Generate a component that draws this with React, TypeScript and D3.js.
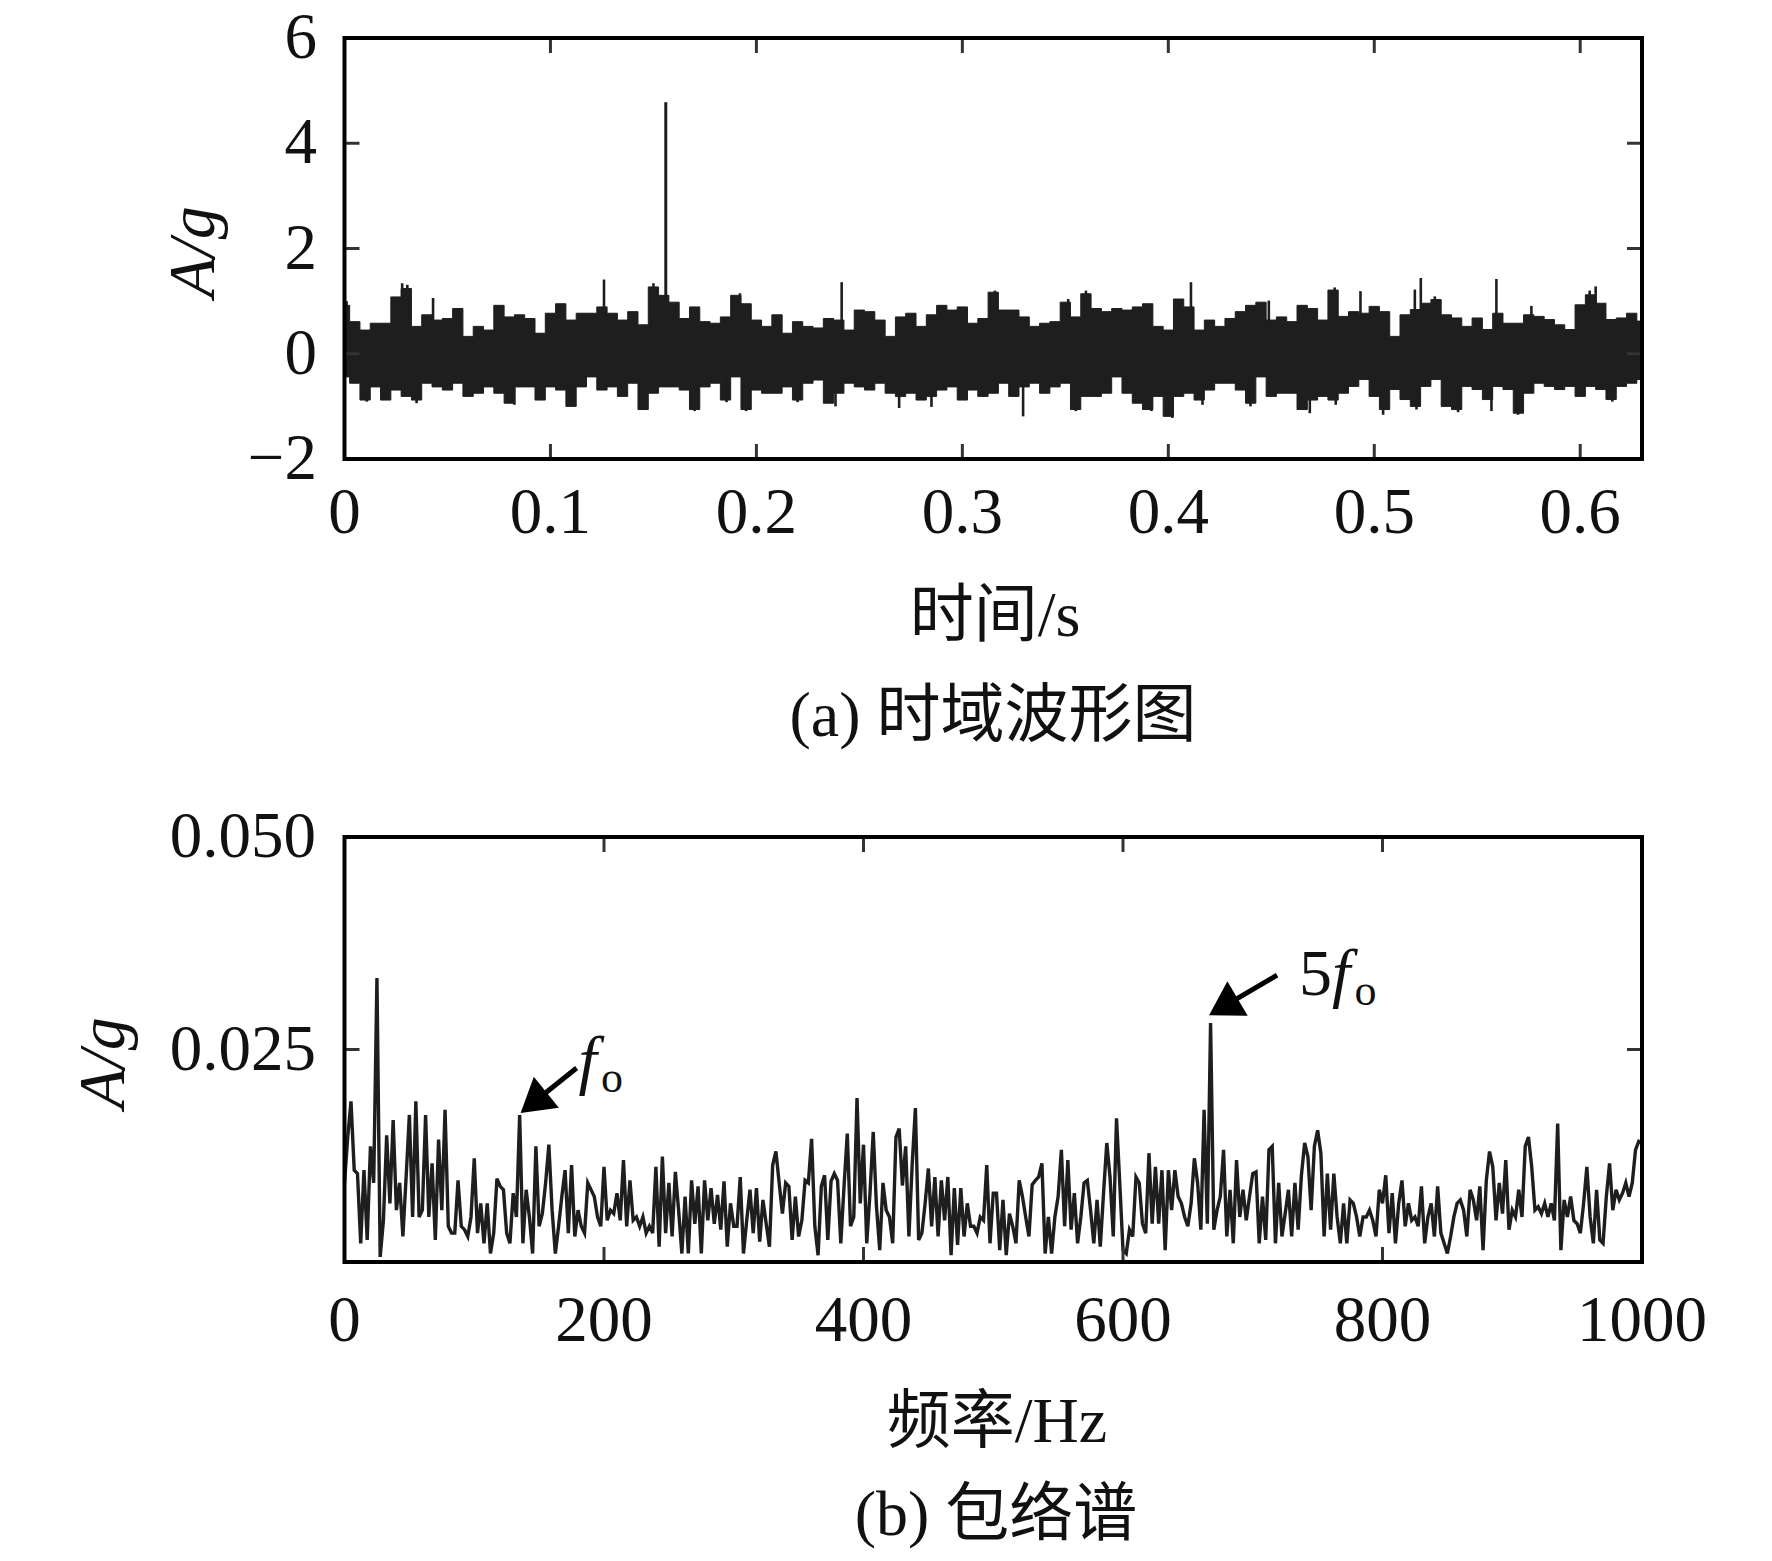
import React, { useRef, useEffect } from 'react';
import * as d3 from 'd3';

// ---- time-domain waveform (a): envelope read every 0.005 s ----
const timeStep = 0.005;
const timeUpper = [
  0.92, 0.61, 0.45, 0.58, 0.58, 1.08, 1.24, 0.52, 0.74, 0.64, 0.67, 0.86, 0.33, 0.52, 0.45, 0.92, 0.70,
  0.74, 0.67, 0.39, 0.77, 0.95, 0.64, 0.77, 0.77, 0.89, 0.77, 0.64, 0.80, 0.55, 1.27, 1.11, 0.98,
  0.67, 0.89, 0.61, 0.58, 0.70, 1.11, 0.95, 0.64, 0.52, 0.74, 0.39, 0.61, 0.52, 0.49, 0.67, 0.64,
  0.45, 0.83, 0.80, 0.64, 0.33, 0.70, 0.77, 0.52, 0.74, 0.92, 0.83, 0.89, 0.58, 0.67, 1.17, 0.83,
  0.83, 0.70, 0.52, 0.58, 0.61, 0.98, 0.70, 1.14, 0.86, 0.80, 0.86, 0.83, 0.89, 0.95, 0.52, 0.45,
  1.04, 0.89, 0.45, 0.64, 0.52, 0.67, 0.80, 0.92, 0.98, 0.64, 0.70, 0.61, 0.92, 0.86, 0.64, 1.21,
  0.71, 0.80, 0.77, 0.90, 0.80, 0.33, 0.74, 0.84, 0.96, 1.03, 0.74, 0.68, 0.52, 0.68, 0.46, 0.77,
  0.58, 0.58, 0.74, 0.71, 0.65, 0.55, 0.46, 0.93, 1.12, 0.96, 0.65, 0.68, 0.77, 0.62,
];
const timeLower = [
  -0.44, -0.56, -0.88, -0.63, -0.88, -0.69, -0.81, -0.88, -0.56, -0.63, -0.69, -0.56, -0.81, -0.75, -0.63, -0.75, -0.94,
  -0.63, -0.63, -0.88, -0.63, -0.69, -1.00, -0.63, -0.44, -0.69, -0.63, -0.81, -0.56, -1.06, -0.75, -0.63, -0.63,
  -0.69, -1.06, -0.63, -0.56, -0.88, -0.44, -1.06, -0.69, -0.75, -0.75, -0.63, -0.88, -0.56, -0.50, -0.94, -0.75,
  -0.56, -0.63, -0.69, -0.56, -0.75, -0.81, -0.75, -0.88, -0.81, -0.69, -0.63, -0.88, -0.69, -0.81, -0.75, -0.56,
  -0.81, -0.63, -0.56, -0.75, -0.63, -0.56, -1.06, -0.81, -0.81, -0.75, -0.44, -0.75, -0.94, -1.06, -0.81, -1.19,
  -0.81, -0.75, -0.88, -0.69, -0.56, -0.56, -0.69, -0.94, -0.44, -0.81, -0.75, -0.75, -1.06, -0.88, -0.81, -0.88,
  -0.75, -0.62, -0.49, -0.81, -1.06, -0.68, -0.87, -1.00, -0.62, -0.49, -1.00, -1.06, -0.62, -0.68, -0.87, -0.62,
  -0.68, -1.13, -0.75, -0.56, -0.62, -0.68, -0.62, -0.81, -0.62, -0.68, -0.87, -0.62, -0.56, -0.49,
];
// isolated needles sticking out of the band: [time s, amplitude g]
const upNeedles: [number, number][] = [
  [0.001, 1.0], [0.028, 1.34], [0.0305, 1.31], [0.043, 1.06], [0.126, 1.41], [0.150, 1.34],
  [0.192, 1.15], [0.2414, 1.36], [0.3158, 1.20], [0.3514, 1.04], [0.360, 1.20], [0.411, 1.36],
  [0.4488, 1.01], [0.4808, 1.26], [0.4933, 1.19], [0.5197, 1.22], [0.5226, 1.44], [0.5294, 1.09],
  [0.5593, 1.42], [0.5763, 0.91], [0.6046, 1.20], [0.6075, 1.28],
];
const downNeedles: [number, number][] = [
  [0.0108, -0.91], [0.035, -0.94], [0.0825, -0.97], [0.1095, -1.0], [0.1454, -1.06], [0.170, -1.09],
  [0.1855, -0.92], [0.195, -1.09], [0.22, -0.92], [0.2384, -1.0], [0.2693, -1.03], [0.285, -1.01],
  [0.3295, -1.19], [0.3551, -1.09], [0.3918, -1.09], [0.402, -1.22], [0.4166, -0.97], [0.4399, -1.0],
  [0.4687, -1.13], [0.4813, -0.97], [0.5043, -1.16], [0.5205, -1.06], [0.5407, -1.11], [0.5569, -1.09],
  [0.5698, -1.16], [0.6156, -0.91],
];
const impulse: [number, number] = [0.156, 4.78];

const timeTicks = [0, 0.1, 0.2, 0.3, 0.4, 0.5, 0.6];
const accelTicks = [-2, 0, 2, 4, 6];

// ---- envelope spectrum (b): amplitude in 1e-3 g, every 2.5 Hz ----
const freqStep = 2.5;
const specAmp = [
  9.3, 14.7, 18.9, 10.8, 10.4, 2.2, 10.8, 2.6, 13.6, 9.3,
  33.4, 0.6, 4.9, 14.9, 6.9, 16.7, 6.1, 9.3, 3.0, 10.0,
  17.3, 5.3, 18.9, 5.3, 6.1, 17.3, 5.3, 11.6, 2.6, 14.4,
  6.1, 17.9, 4.2, 3.4, 3.4, 9.6, 4.2, 3.8, 3.0, 5.3,
  12.2, 3.4, 6.9, 2.2, 6.9, 1.0, 3.4, 9.8, 8.9, 8.5,
  3.4, 2.2, 8.1, 5.3, 17.3, 2.2, 8.5, 5.3, 1.0, 13.6,
  4.2, 5.7, 9.3, 13.8, 6.1, 1.0, 4.2, 7.7, 10.8, 3.4,
  11.4, 3.0, 6.1, 4.2, 3.4, 9.3, 8.5, 7.7, 5.3, 4.2,
  11.2, 4.9, 6.1, 5.7, 8.1, 4.9, 12.0, 4.2, 9.6, 4.9,
  5.3, 4.2, 5.3, 3.4, 4.2, 3.4, 11.2, 1.8, 12.4, 3.4,
  9.3, 3.0, 10.6, 6.1, 1.0, 7.7, 1.0, 9.6, 4.5, 8.9,
  1.0, 9.6, 4.9, 8.7, 4.5, 7.9, 3.8, 9.5, 1.8, 6.9,
  4.2, 4.2, 10.0, 1.0, 4.9, 8.5, 3.4, 8.7, 2.4, 7.3,
  4.5, 1.8, 11.4, 13.0, 9.3, 5.7, 9.3, 8.9, 2.6, 7.7,
  3.0, 4.9, 9.6, 9.3, 14.5, 4.2, 0.8, 8.9, 10.2, 2.6,
  9.5, 10.4, 9.6, 2.2, 8.9, 15.1, 4.2, 5.3, 19.3, 6.9,
  13.8, 2.2, 8.1, 15.3, 6.5, 1.4, 9.3, 6.1, 5.3, 2.2,
  14.7, 15.7, 9.0, 13.6, 3.0, 11.4, 18.1, 2.6, 3.4, 6.9,
  11.0, 4.2, 10.0, 3.0, 9.6, 4.9, 10.0, 0.8, 8.7, 2.0,
  8.7, 3.0, 6.9, 4.2, 4.2, 3.4, 5.3, 4.9, 11.4, 2.2,
  8.1, 8.1, 1.4, 7.3, 0.8, 5.7, 4.2, 2.2, 9.6, 7.7,
  5.3, 3.0, 9.1, 9.6, 10.0, 11.6, 1.0, 5.3, 1.0, 5.3,
  7.7, 13.2, 4.2, 12.0, 3.8, 8.1, 2.2, 5.3, 9.3, 9.6,
  6.1, 2.2, 7.3, 1.8, 8.1, 14.0, 10.0, 3.0, 16.9, 9.3,
  1.4, 1.0, 3.8, 3.0, 10.0, 9.3, 4.5, 3.4, 12.8, 4.5,
  11.2, 4.5, 10.8, 1.4, 10.8, 6.1, 10.8, 7.7, 6.9, 5.3,
  4.2, 6.9, 12.2, 9.3, 3.8, 17.9, 4.5, 28.1, 3.8, 6.1,
  7.7, 13.2, 3.0, 8.5, 2.2, 12.0, 5.3, 8.5, 4.9, 7.7,
  10.4, 10.6, 2.2, 7.7, 2.6, 13.2, 13.6, 2.2, 9.3, 3.0,
  5.7, 8.5, 3.0, 9.3, 3.8, 10.2, 14.0, 12.4, 6.1, 13.6,
  15.5, 12.8, 3.0, 10.4, 3.8, 10.4, 5.3, 2.2, 6.9, 2.2,
  7.3, 6.9, 5.3, 3.0, 5.3, 5.3, 6.1, 4.9, 3.0, 8.5,
  6.9, 10.2, 3.4, 8.1, 2.2, 6.9, 9.6, 4.2, 6.9, 4.9,
  5.3, 4.2, 8.9, 2.2, 5.3, 6.9, 3.0, 8.9, 3.4, 2.2,
  1.0, 3.0, 5.3, 6.9, 7.3, 6.1, 3.0, 8.5, 7.3, 4.9,
  8.9, 1.4, 9.6, 13.0, 11.2, 4.9, 9.3, 5.7, 12.0, 3.8,
  6.1, 5.3, 8.5, 5.3, 13.6, 14.7, 11.2, 6.1, 6.5, 5.7,
  6.9, 5.3, 6.9, 4.9, 16.3, 1.4, 7.3, 5.3, 7.7, 4.9,
  4.5, 3.4, 6.9, 11.2, 5.3, 2.2, 8.5, 2.6, 2.2, 7.7,
  11.6, 6.1, 8.5, 7.3, 8.1, 9.3, 7.7, 9.3, 13.2, 14.2,
  14.0,
];
const freqTicks = [0, 200, 400, 600, 800, 1000];
const ampTicks = [0.025, 0.05];

// marked fault-frequency peaks
const peakLabels = ['', '5'];
const peakFreqs = [134.2, 667.5];
const peakAmps = [0.0173, 0.0281];

const W = 1772;
const H = 1561;
const FONT = "'Liberation Serif', 'Times New Roman', 'Noto Sans CJK SC', serif";
const INK = '#1e1e1e';

function App() {
  const svgRef = useRef<SVGSVGElement | null>(null);

  useEffect(() => {
    if (!svgRef.current) return;
    const svg = d3.select(svgRef.current);
    svg.selectAll('*').remove();

    svg.append('rect').attr('width', W).attr('height', H).attr('fill', '#fff');

    const left = 344.5;
    const right = 1642;

    // ---------- panel (a) ----------
    const x1 = d3.scaleLinear().domain([0, 0.63]).range([left, right]);
    const y1 = d3.scaleLinear().domain([-2, 6]).range([459, 38]);

    svg.append('defs').append('clipPath').attr('id', 'clipA')
      .append('rect').attr('x', left).attr('y', 38).attr('width', right - left).attr('height', 421);

    const band = d3.area<number>()
      .curve(d3.curveStep)
      .x((_, i) => x1(i * timeStep))
      .y0((_, i) => y1(timeLower[i]))
      .y1(d => y1(d));
    svg.append('path')
      .attr('clip-path', 'url(#clipA)')
      .attr('d', band(timeUpper))
      .attr('fill', INK)
      .attr('stroke', INK)
      .attr('stroke-width', 1);

    svg.append('g')
      .selectAll('line')
      .data([...upNeedles, ...downNeedles])
      .join('line')
      .attr('x1', d => x1(d[0]))
      .attr('x2', d => x1(d[0]))
      .attr('y1', y1(0))
      .attr('y2', d => y1(d[1]))
      .attr('stroke', INK)
      .attr('stroke-width', 2.6);

    svg.append('line')
      .attr('x1', x1(impulse[0])).attr('x2', x1(impulse[0]))
      .attr('y1', y1(0)).attr('y2', y1(impulse[1]))
      .attr('stroke', INK).attr('stroke-width', 3);

    // ---------- panel (b) ----------
    const x2 = d3.scaleLinear().domain([0, 1000]).range([left, right]);
    const y2 = d3.scaleLinear().domain([0, 0.05]).range([1262, 837]);

    const spec = d3.line<number>()
      .x((_, i) => x2(i * freqStep))
      .y(d => y2(d / 1000));
    svg.append('path')
      .attr('d', spec(specAmp))
      .attr('fill', 'none')
      .attr('stroke', INK)
      .attr('stroke-width', 3.4)
      .attr('stroke-linejoin', 'miter');

    // frames, inward ticks on all four sides, labels
    const frame = (
      x: d3.ScaleLinear<number, number>,
      y: d3.ScaleLinear<number, number>,
      xt: number[], yt: number[],
      xfmt: (d: number) => string, yfmt: (d: number) => string,
      xLabelBase: number, yLabelRight: number,
    ) => {
      const [xa, xb] = x.range();
      const [ya, yb] = y.range();
      const g = svg.append('g');
      const tick = 15;
      xt.filter(d => x(d) > xa + 2 && x(d) < xb - 2).forEach(d => {
        g.append('line').attr('x1', x(d)).attr('x2', x(d)).attr('y1', ya).attr('y2', ya - tick)
          .attr('stroke', '#333').attr('stroke-width', 3);
        g.append('line').attr('x1', x(d)).attr('x2', x(d)).attr('y1', yb).attr('y2', yb + tick)
          .attr('stroke', '#333').attr('stroke-width', 3);
      });
      yt.filter(d => y(d) < ya - 2 && y(d) > yb + 2).forEach(d => {
        g.append('line').attr('x1', xa).attr('x2', xa + tick).attr('y1', y(d)).attr('y2', y(d))
          .attr('stroke', '#333').attr('stroke-width', 3);
        g.append('line').attr('x1', xb).attr('x2', xb - tick).attr('y1', y(d)).attr('y2', y(d))
          .attr('stroke', '#333').attr('stroke-width', 3);
      });
      g.append('rect')
        .attr('x', xa).attr('y', yb).attr('width', xb - xa).attr('height', ya - yb)
        .attr('fill', 'none').attr('stroke', '#000').attr('stroke-width', 4);
      g.selectAll('text.xt').data(xt).join('text')
        .attr('x', d => x(d)).attr('y', xLabelBase)
        .attr('text-anchor', 'middle')
        .attr('font-family', FONT).attr('font-size', 65).attr('fill', '#111')
        .text(xfmt);
      g.selectAll('text.yt').data(yt).join('text')
        .attr('x', yLabelRight).attr('y', d => y(d) + 20)
        .attr('text-anchor', 'end')
        .attr('font-family', FONT).attr('font-size', 65).attr('fill', '#111')
        .text(yfmt);
    };

    frame(x1, y1, timeTicks, accelTicks,
      d => (d === 0 ? '0' : d.toFixed(1)),
      d => (d < 0 ? '\u2212' + Math.abs(d) : String(d)),
      533, 317);
    frame(x2, y2, freqTicks, ampTicks,
      d => String(d),
      d => d.toFixed(3),
      1341, 316);

    // axis titles and captions
    const text = (s: string, x: number, y: number, size = 64) =>
      svg.append('text').attr('x', x).attr('y', y).attr('text-anchor', 'middle')
        .attr('font-family', FONT).attr('font-size', size).attr('fill', '#111').text(s);

    text('时间/s', 995, 636);
    text('(a) 时域波形图', 993, 736);
    text('频率/Hz', 997, 1442);
    text('(b) 包络谱', 996, 1535);

    const yTitle = (cx: number, cy: number) =>
      svg.append('text')
        .attr('transform', `translate(${cx},${cy}) rotate(-90)`)
        .attr('text-anchor', 'middle')
        .attr('font-family', FONT).attr('font-size', 66).attr('font-style', 'italic')
        .attr('fill', '#111').text('A/g');
    yTitle(214, 252);
    yTitle(124, 1063);

    // arrows to the fault peaks
    const arrowOffsets = [
      { tip: [2, -2], tail: [56, -45], label: [58, -31] },
      { tip: [-1.5, -8], tail: [68, -40], label: [90, -20] },
    ];
    peakFreqs.forEach((f, i) => {
      const o = arrowOffsets[i];
      const tx = x2(f) + o.tip[0];
      const ty = y2(peakAmps[i]) + o.tip[1];
      const ex = tx + o.tail[0];
      const ey = ty + o.tail[1];
      const len = Math.hypot(ex - tx, ey - ty);
      const ux = (ex - tx) / len;
      const uy = (ey - ty) / len;
      const hl = 33;
      const hw = 20;
      const bx = tx + ux * hl;
      const by = ty + uy * hl;
      svg.append('line')
        .attr('x1', bx - ux * 4).attr('y1', by - uy * 4).attr('x2', ex).attr('y2', ey)
        .attr('stroke', '#000').attr('stroke-width', 5);
      svg.append('polygon')
        .attr('points', [
          [tx, ty],
          [bx - uy * hw, by + ux * hw],
          [bx + uy * hw, by - ux * hw],
        ].map(p => p.join(',')).join(' '))
        .attr('fill', '#000');
      const t = svg.append('text')
        .attr('x', tx + o.label[0]).attr('y', ty + o.label[1])
        .attr('font-family', FONT).attr('font-size', 66).attr('fill', '#111');
      if (peakLabels[i]) t.append('tspan').text(peakLabels[i]);
      t.append('tspan').attr('font-style', 'italic').text('f');
      t.append('tspan').attr('font-size', 44).attr('dx', 4).attr('dy', 10).text('o');
    });
  }, []);

  return (
    <div style={{ position: 'absolute', left: 0, top: 0, background: '#fff' }}>
      <svg ref={svgRef} width={W} height={H} style={{ display: 'block' }}></svg>
    </div>
  );
}

export default App;
